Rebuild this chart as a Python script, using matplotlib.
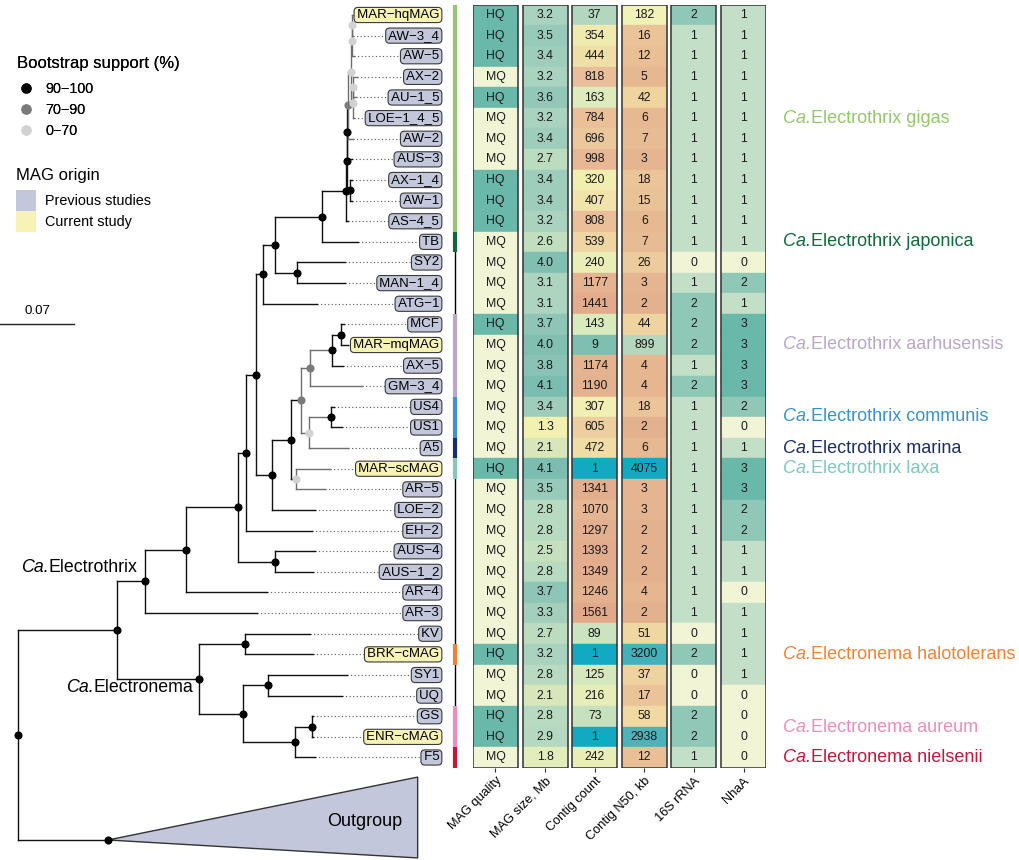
"""Electrothrix / Electronema phylogeny with genome feature heatmap."""

import matplotlib

matplotlib.use("Agg")
import matplotlib.pyplot as plt
import numpy as np
from matplotlib.colors import LinearSegmentedColormap
from matplotlib.lines import Line2D
from matplotlib.patches import Patch, Rectangle

plt.rcParams["font.family"] = ["Liberation Sans", "DejaVu Sans"]

# ---------------------------------------------------------------- data
TIP_NAMES = [
    "MAR-hqMAG", "AW-3_4", "AW-5", "AX-2", "AU-1_5", "LOE-1_4_5", "AW-2",
    "AUS-3", "AX-1_4", "AW-1", "AS-4_5", "TB", "SY2", "MAN-1_4", "ATG-1",
    "MCF", "MAR-mqMAG", "AX-5", "GM-3_4", "US4", "US1", "A5", "MAR-scMAG",
    "AR-5", "LOE-2", "EH-2", "AUS-4", "AUS-1_2", "AR-4", "AR-3", "KV",
    "BRK-cMAG", "SY1", "UQ", "GS", "ENR-cMAG", "F5",
]
CURRENT_STUDY = ["MAR-hqMAG", "MAR-mqMAG", "MAR-scMAG", "BRK-cMAG", "ENR-cMAG"]

# internal node: (children, branch length, bootstrap class H=90-100, M=70-90, L=0-70)
CLADES = {
    "root": (["ingroup", "Outgroup"], 0.0, "H"),
    "ingroup": (["Electrothrix", "Electronema"], 0.0937, "H"),
    "Electrothrix": (["n186", "AR-3"], 0.0265, "H"),
    "n186": (["n238", "AR-4"], 0.0388, "H"),
    "n238": (["n246", "nAUS"], 0.0492, "H"),
    "nAUS": (["AUS-4", "AUS-1_2"], 0.0350, "H"),
    "n246": (["n256", "EH-2"], 0.0076, "H"),
    "n256": (["n263", "n272"], 0.0095, "H"),
    "n263": (["n275", "ATG-1"], 0.0066, "H"),
    "n275": (["n322", "n297"], 0.0114, "H"),
    "n297": (["SY2", "MAN-1_4"], 0.0208, "H"),
    "n322": (["gigas", "TB"], 0.0445, "H"),
    "gigas": (["g7", "AS-4_5"], 0.0227, "H"),
    "g7": (["g5", "g6"], 0.0005, "H"),
    "g6": (["AX-1_4", "AW-1"], 0.003, "H"),
    "g5": (["g4", "AUS-3"], 0.0003, "H"),
    "g4": (["g3", "AW-2"], 0.0013, "M"),
    "g3": (["g1", "g2"], 0.002, "L"),
    "g1": (["gm", "AW-5"], 0.001, "L"),
    "gm": (["MAR-hqMAG", "AW-3_4"], 0.0002, "L"),
    "g2": (["gax", "LOE-1_4_5"], 0.002, "L"),
    "gax": (["AX-2", "AU-1_5"], 0.0003, "L"),
    "n272": (["n291", "LOE-2"], 0.0151, "H"),
    "n291": (["n301", "n296"], 0.0180, "H"),
    "n296": (["MAR-scMAG", "AR-5"], 0.0047, "L"),
    "n301": (["n310", "n309"], 0.0095, "M"),
    "n310": (["n332", "GM-3_4"], 0.0085, "M"),
    "n332": (["n341", "AX-5"], 0.0208, "H"),
    "n341": (["MCF", "MAR-mqMAG"], 0.0085, "H"),
    "n309": (["n331", "A5"], 0.0076, "L"),
    "n331": (["US4", "US1"], 0.0208, "H"),
    "Electronema": (["n245", "n243"], 0.0776, "H"),
    "n245": (["KV", "BRK-cMAG"], 0.0435, "H"),
    "n243": (["n268", "n295"], 0.0416, "H"),
    "n268": (["SY1", "UQ"], 0.0237, "H"),
    "n295": (["n312", "F5"], 0.0492, "H"),
    "n312": (["GS", "ENR-cMAG"], 0.0161, "H"),
}
TIP_LENGTHS = {
    "MAR-hqMAG": 0.002, "AW-3_4": 0.001, "AW-5": 0.002, "AX-2": 0.004,
    "AU-1_5": 0.003, "LOE-1_4_5": 0.001, "AW-2": 0.004, "AUS-3": 0.005,
    "AX-1_4": 0.002, "AW-1": 0.002, "AS-4_5": 0.002, "TB": 0.0341,
    "SY2": 0.0454, "MAN-1_4": 0.0454, "ATG-1": 0.0511, "MCF": 0.0028,
    "MAR-mqMAG": 0.0066, "AX-5": 0.0104, "GM-3_4": 0.0492, "US4": 0.0028,
    "US1": 0.0104, "A5": 0.0369, "MAR-scMAG": 0.0322, "AR-5": 0.0274,
    "LOE-2": 0.0407, "EH-2": 0.0624, "AUS-4": 0.0378, "AUS-1_2": 0.0360,
    "AR-4": 0.0766, "AR-3": 0.1060, "KV": 0.0615, "BRK-cMAG": 0.0643,
    "SY1": 0.0747, "UQ": 0.0700, "GS": 0.001, "ENR-cMAG": 0.001,
    "F5": 0.0189, "Outgroup": 0.0851,
}
OUTGROUP_ROW = 40.0
OUTGROUP_SPAN = (36.95, 40.87)
OUTGROUP_DEPTH = 0.293
SCALE_LENGTH = 0.07

QUALITY = [
    "HQ", "HQ", "HQ", "MQ", "HQ", "MQ", "MQ", "MQ", "HQ", "HQ", "HQ", "MQ",
    "MQ", "MQ", "MQ", "HQ", "MQ", "MQ", "MQ", "MQ", "MQ", "MQ", "HQ", "MQ",
    "MQ", "MQ", "MQ", "MQ", "MQ", "MQ", "MQ", "HQ", "MQ", "MQ", "HQ", "HQ", "MQ",
]
SIZE_MB = [
    3.2, 3.5, 3.4, 3.2, 3.6, 3.2, 3.4, 2.7, 3.4, 3.4, 3.2, 2.6, 4.0, 3.1, 3.1,
    3.7, 4.0, 3.8, 4.1, 3.4, 1.3, 2.1, 4.1, 3.5, 2.8, 2.8, 2.5, 2.8, 3.7, 3.3,
    2.7, 3.2, 2.8, 2.1, 2.8, 2.9, 1.8,
]
CONTIG_COUNT = [
    37, 354, 444, 818, 163, 784, 696, 998, 320, 407, 808, 539, 240, 1177, 1441,
    143, 9, 1174, 1190, 307, 605, 472, 1, 1341, 1070, 1297, 1393, 1349, 1246,
    1561, 89, 1, 125, 216, 73, 1, 242,
]
CONTIG_N50 = [
    182, 16, 12, 5, 42, 6, 7, 3, 18, 15, 6, 7, 26, 3, 2, 44, 899, 4, 4, 18, 2,
    6, 4075, 3, 3, 2, 2, 2, 4, 2, 51, 3200, 37, 17, 58, 2938, 12,
]
RRNA_16S = [
    2, 1, 1, 1, 1, 1, 1, 1, 1, 1, 1, 1, 0, 1, 2, 2, 2, 1, 2, 1, 1, 1, 1, 1, 1,
    1, 1, 1, 1, 1, 0, 2, 0, 0, 2, 2, 1,
]
NHAA = [
    1, 1, 1, 1, 1, 1, 1, 1, 1, 1, 1, 1, 0, 2, 1, 3, 3, 3, 3, 2, 0, 1, 3, 3, 2,
    2, 1, 1, 0, 1, 1, 1, 1, 0, 0, 0, 0,
]
COLUMN_LABELS = ["MAG quality", "MAG size, Mb", "Contig count",
                 "Contig N50, kb", "16S rRNA", "NhaA"]

SPECIES = [
    ("Electrothrix gigas", 0, 10, 5.0, "#93c96b"),
    ("Electrothrix japonica", 11, 11, 11.0, "#0f6b3a"),
    ("Electrothrix aarhusensis", 15, 18, 16.0, "#bba6cc"),
    ("Electrothrix communis", 19, 20, 19.45, "#3a93cc"),
    ("Electrothrix marina", 21, 21, 21.0, "#1c2d6c"),
    ("Electrothrix laxa", 22, 22, 21.98, "#7fc9bd"),
    ("Electronema halotolerans", 31, 31, 31.0, "#f58232"),
    ("Electronema aureum", 34, 35, 34.55, "#f08cbc"),
    ("Electronema nielsenii", 36, 36, 36.0, "#c8163a"),
]

# ---------------------------------------------------------------- styles
SUPPORT_COLORS = {"H": "#000000", "M": "#7a7a7a", "L": "#d2d2d2"}
EDGE_COLORS = {"H": "#111111", "M": "#6e6e6e", "L": "#6e6e6e"}
PREVIOUS_FILL = "#c3c7dc"
CURRENT_FILL = "#f6f3b4"
QUALITY_COLORS = {"HQ": "#69b8a9", "MQ": "#f1f5d6"}
COUNT_COLORS = {0: "#f1f5d6", 1: "#c4dfc8", 2: "#8fc8b7", 3: "#69b8a9"}


def ramp(stops):
    lo, hi = stops[0][0], stops[-1][0]
    cmap = LinearSegmentedColormap.from_list(
        "ramp", [((v - lo) / (hi - lo), c) for v, c in stops])
    return lambda v: cmap(np.clip((v - lo) / (hi - lo), 0, 1))


size_color = ramp([(1.3, "#f2f1b0"), (1.8, "#e3edbb"), (2.1, "#d7e7bb"),
                   (2.7, "#bcdcc0"), (3.2, "#a9d2bf"), (3.6, "#93c7b7"),
                   (4.1, "#7cbdb1")])
count_color = ramp([(0.0, "#12aac2"), (0.95, "#7fbfb2"), (1.6, "#b5d8bf"),
                    (2.2, "#dcebbd"), (2.5, "#f2efb1"), (2.75, "#efd3a0"),
                    (2.9, "#ebc099"), (3.2, "#e1a98a")])
n50_color = ramp([(0.3, "#e4b18e"), (1.08, "#e9bf96"), (1.76, "#f0d9a2"),
                  (2.26, "#f0f2b6"), (2.95, "#b7d8be"), (3.47, "#52b4ba"),
                  (3.61, "#12aac2")])


def ca_label(ax, x, y, rest, **kw):
    """'Ca.' in italics directly followed by the upright name."""
    head = ax.text(x, y, "Ca.", style="italic", va="center", **kw)
    ax.annotate(rest, xy=(1, 0), xycoords=head, va="bottom", ha="left", **kw)


# ---------------------------------------------------------------- layout
rows = {name: i for i, name in enumerate(TIP_NAMES)}
rows["Outgroup"] = OUTGROUP_ROW
pos = {}


def place(name, x_parent):
    if name in CLADES:
        children, length, _ = CLADES[name]
        x = x_parent + length
        y = np.mean([place(child, x) for child in children])
    else:
        x = x_parent + TIP_LENGTHS[name]
        y = rows[name]
    pos[name] = (x, y)
    return y


place("root", 0.0)

fig = plt.figure(figsize=(10.19, 8.6), dpi=100)
ax = fig.add_axes([0, 0, 1, 1])
ax.set_xlim(-0.01703, 0.947)
ax.set_ylim(40.97, -0.727)
ax.axis("off")

for name, (children, _, support) in CLADES.items():
    x, y = pos[name]
    child_y = [pos[c][1] for c in children]
    ax.plot([x, x], [min(child_y), max(child_y)], color=EDGE_COLORS[support], lw=1.0)
    for child in children:
        cx, cy = pos[child]
        ax.plot([x, cx], [cy, cy], color=EDGE_COLORS[support], lw=1.0)
    ax.scatter([x], [y], s=34, color=SUPPORT_COLORS[support], linewidths=0, zorder=4)

# collapsed outgroup
ox, oy = pos["Outgroup"]
ax.fill([ox, ox + OUTGROUP_DEPTH, ox + OUTGROUP_DEPTH],
        [oy, OUTGROUP_SPAN[0], OUTGROUP_SPAN[1]],
        facecolor=PREVIOUS_FILL, edgecolor="#333333", lw=1.0, zorder=2)
ax.scatter([ox], [oy], s=34, color="black", linewidths=0, zorder=4)
ax.text(ox + OUTGROUP_DEPTH - 0.015, 39.08, "Outgroup", ha="right", va="center",
        fontsize=13)

# tip labels
LABEL_X = 0.3995
for name in TIP_NAMES:
    x, y = pos[name]
    ax.plot([x, LABEL_X], [y, y], color="#555555", lw=0.8,
            linestyle=(0, (1, 2.2)), zorder=1)
    fill = CURRENT_FILL if name in CURRENT_STUDY else PREVIOUS_FILL
    ax.text(LABEL_X, y, "\u200a" + name.replace("-", "\u2212") + "\u200a",
            ha="right", va="center", fontsize=9.5, zorder=5,
            bbox=dict(boxstyle="round,pad=0.12,rounding_size=0.3",
                      fc=fill, ec="#3a3a3a", lw=0.8))

# clade strip and species names
STRIP_X = 0.4134
ax.plot([STRIP_X, STRIP_X], [11.5, 33.5], color="black", lw=1.0)
for label, r0, r1, label_row, color in SPECIES:
    ax.plot([STRIP_X, STRIP_X], [r0 - 0.5, r1 + 0.5], color=color, lw=3,
            solid_capstyle="butt", zorder=3)
    ca_label(ax, 0.7237, label_row, label, color=color, fontsize=13)

ca_label(ax, 0.0025, 26.8, "Electrothrix", fontsize=12.8)
ca_label(ax, 0.0454, 32.6, "Electronema", fontsize=12.8)

# scale bar
ax.plot([-0.01703, -0.01703 + SCALE_LENGTH], [14.98, 14.98], color="#222222", lw=1.0)
ax.text(-0.01703 + SCALE_LENGTH / 2, 14.35, f"{SCALE_LENGTH:.2f}", ha="center",
        va="center", fontsize=9.6)

# legends
boot = [Line2D([], [], marker="o", ls="none", ms=6.4, mfc=c, mec=c)
        for c in SUPPORT_COLORS.values()]
leg1 = fig.legend(boot, ["90\u2212100", "70\u221290", "0\u221270"],
                  title="Bootstrap support (%)", loc="upper left",
                  bbox_to_anchor=(0.0167, 1 - 56 / 860), frameon=False,
                  fontsize=10.4, title_fontsize=12, alignment="left",
                  borderpad=0, borderaxespad=0, handlelength=1.25,
                  handletextpad=0.69, labelspacing=0.47)
leg1._legend_box.sep = 8.0
origin = [Patch(fc=PREVIOUS_FILL, ec="none"), Patch(fc=CURRENT_FILL, ec="none")]
leg2 = fig.legend(origin, ["Previous studies", "Current study"],
                  title="MAG origin", loc="upper left",
                  bbox_to_anchor=(0.0157, 1 - 168 / 860), frameon=False,
                  fontsize=10.4, title_fontsize=12, alignment="left",
                  borderpad=0, borderaxespad=0, handlelength=1.39,
                  handleheight=1.86, handletextpad=0.62, labelspacing=0)
leg2._legend_box.sep = 5.0
fig.add_artist(leg1)

# heatmap
hx = fig.add_axes([473 / 1019, 92.2 / 860, 293 / 1019, 763.1 / 860])
hx.set_xlim(-0.4535, 5.4535)
hx.set_ylim(36.5, -0.5)
ypos = np.arange(len(TIP_NAMES))
columns = [
    ([QUALITY_COLORS[q] for q in QUALITY], QUALITY),
    ([size_color(v) for v in SIZE_MB], [f"{v:.1f}" for v in SIZE_MB]),
    ([count_color(np.log10(v)) for v in CONTIG_COUNT], [str(v) for v in CONTIG_COUNT]),
    ([n50_color(np.log10(v)) for v in CONTIG_N50], [str(v) for v in CONTIG_N50]),
    ([COUNT_COLORS[v] for v in RRNA_16S], [str(v) for v in RRNA_16S]),
    ([COUNT_COLORS[v] for v in NHAA], [str(v) for v in NHAA]),
]
width = 0.907
for j, (colors, texts) in enumerate(columns):
    hx.barh(ypos, width, left=j - width / 2, height=1.0, color=colors,
            edgecolor=colors, linewidth=0.3)
    hx.add_patch(Rectangle((j - width / 2, -0.5), width, len(TIP_NAMES),
                           fill=False, ec="#333333", lw=1.1, zorder=3))
    for r, t in zip(ypos, texts):
        hx.text(j, r, t, ha="center", va="center", fontsize=8.8, color="#1a1a1a")

for side in hx.spines.values():
    side.set_visible(False)
hx.set_yticks([])
hx.set_xticks(range(len(COLUMN_LABELS)))
hx.set_xticklabels(COLUMN_LABELS, rotation=45, ha="right", rotation_mode="anchor",
                   fontsize=9.2)
hx.tick_params(axis="x", length=3, width=0.8, color="#333333", pad=2)

fig.savefig("out.png", dpi=100)
